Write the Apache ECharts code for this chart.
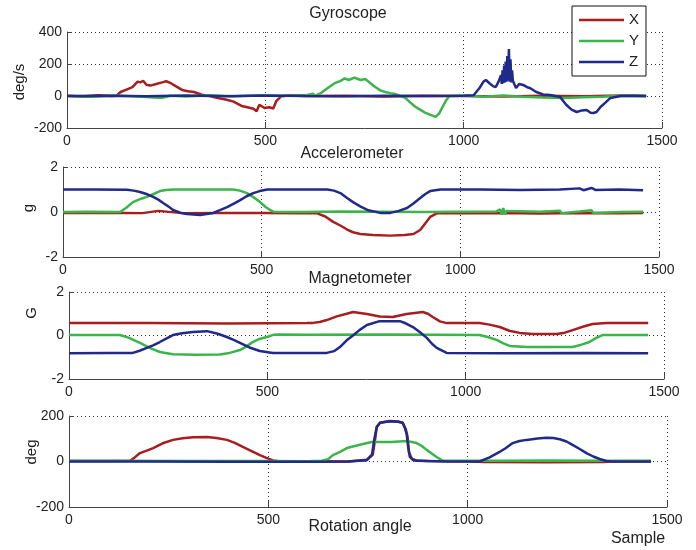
<!DOCTYPE html>
<html>
<head>
<meta charset="utf-8" />
<title>IMU sensors</title>
<style>
  body { margin: 0; background: #fff; }
  #main { width: 696px; height: 550px; }
</style>
</head>
<body>
<div id="main"></div>
<script src="https://cdn.jsdelivr.net/npm/echarts@6.0.0/dist/echarts.min.js"></script>
<script>
// [sample, value]
var gyroX = [[0,2],[40,-3],[80,4],[110,0],[125,2],[135,25],[150,40],[165,55],[178,90],[185,85],[192,95],[200,70],[210,65],[225,75],[240,85],[250,92],[262,80],[275,60],[290,38],[305,30],[320,25],[340,8],[360,0],[380,-12],[400,-22],[420,-35],[440,-62],[455,-70],[470,-80],[478,-95],[485,-55],[490,-45],[498,-75],[510,-70],[520,-78],[528,-30],[540,-2],[560,3],[600,0],[700,2],[800,-3],[900,2],[1000,0],[1100,-3],[1200,2],[1300,-2],[1400,3],[1460,0]];
var gyroY = [[0,0],[60,-5],[120,3],[180,-3],[220,-10],[240,-12],[260,2],[300,-3],[360,4],[420,-2],[480,3],[540,0],[600,4],[620,15],[625,0],[640,18],[660,55],[675,80],[690,95],[700,110],[710,100],[725,115],[740,100],[752,106],[765,80],[777,56],[790,35],[802,25],[815,18],[828,12],[840,0],[853,-12],[865,-40],[878,-67],[890,-85],[904,-106],[918,-120],[929,-131],[938,-110],[947,-67],[955,-30],[964,0],[1000,3],[1050,-5],[1100,3],[1150,-4],[1200,-10],[1250,-12],[1300,-8],[1350,-5],[1400,2],[1460,0]];
var gyroZ = [[0,0],[100,2],[200,-2],[300,3],[400,-2],[500,3],[600,0],[700,-2],[800,2],[900,0],[1000,2],[1025,5],[1040,50],[1050,90],[1056,100],[1065,80],[1075,60],[1081,56],[1088,90],[1090,100],[1092,80],[1094,130],[1096,75],[1098,160],[1100,80],[1102,190],[1104,85],[1106,215],[1108,90],[1110,250],[1112,95],[1114,293],[1116,90],[1118,230],[1120,85],[1122,160],[1124,95],[1132,50],[1140,75],[1150,69],[1160,55],[1167,50],[1183,25],[1200,10],[1218,6],[1243,-6],[1259,-56],[1272,-85],[1285,-100],[1298,-90],[1310,-87],[1320,-105],[1327,-106],[1335,-100],[1345,-69],[1358,-40],[1370,-12],[1396,0],[1430,2],[1460,0]];

var accX = [[0,-0.05],[100,-0.03],[200,-0.05],[240,0.05],[245,-0.03],[300,-0.05],[400,-0.04],[500,-0.04],[600,-0.06],[640,-0.06],[660,-0.2],[680,-0.44],[698,-0.6],[715,-0.78],[730,-0.9],[748,-0.98],[780,-1.02],[824,-1.05],[860,-1.02],[882,-0.98],[899,-0.8],[912,-0.5],[924,-0.22],[942,-0.05],[1000,-0.06],[1100,-0.05],[1200,-0.07],[1300,-0.04],[1400,-0.06],[1460,-0.05]];
var accY = [[0,0],[60,0.01],[144,0],[160,0.2],[176,0.44],[195,0.58],[211,0.67],[228,0.8],[244,0.93],[260,0.98],[277,1.0],[350,1.0],[428,1.0],[445,0.95],[463,0.84],[480,0.65],[496,0.44],[510,0.22],[521,0.09],[530,0.01],[600,0],[700,0.02],[800,0.01],[900,0],[1000,0.01],[1090,0.02],[1100,0.12],[1104,-0.12],[1108,0.18],[1112,-0.1],[1116,0.05],[1200,0.01],[1250,0.06],[1255,-0.05],[1300,0.02],[1330,0.08],[1334,-0.04],[1400,0],[1460,0.01]];
var accZ = [[0,1.0],[80,1.0],[161,0.99],[178,0.95],[194,0.89],[210,0.8],[227,0.67],[240,0.55],[252,0.4],[265,0.25],[277,0.09],[295,-0.03],[312,-0.09],[345,-0.13],[378,-0.04],[395,0.08],[413,0.22],[430,0.37],[446,0.53],[462,0.7],[479,0.84],[495,0.93],[514,1.0],[600,1.0],[665,1.0],[682,0.95],[698,0.84],[715,0.62],[730,0.44],[748,0.25],[766,0.09],[798,-0.04],[824,-0.04],[845,0.05],[866,0.18],[882,0.38],[899,0.62],[912,0.8],[924,0.93],[950,1.0],[1050,1.0],[1150,0.98],[1250,1.0],[1300,1.05],[1310,0.97],[1330,1.07],[1340,0.98],[1400,1.0],[1460,0.97]];

var magX = [[0,0.57],[200,0.57],[400,0.55],[600,0.57],[615,0.58],[632,0.62],[650,0.71],[675,0.88],[700,1.0],[716,1.08],[751,0.99],[783,0.87],[816,0.85],[851,0.99],[892,1.08],[905,1.0],[917,0.85],[935,0.65],[952,0.57],[1035,0.57],[1060,0.5],[1086,0.39],[1110,0.22],[1136,0.12],[1169,0.07],[1229,0.07],[1250,0.13],[1270,0.25],[1295,0.4],[1320,0.53],[1355,0.57],[1460,0.57]];
var magY = [[0,0.02],[128,0.02],[150,-0.1],[179,-0.34],[205,-0.58],[229,-0.76],[262,-0.86],[320,-0.88],[380,-0.87],[405,-0.8],[431,-0.67],[448,-0.5],[463,-0.3],[480,-0.16],[499,-0.07],[515,0.03],[531,0.05],[600,0.04],[800,0.05],[1035,0.02],[1055,-0.07],[1078,-0.2],[1095,-0.36],[1111,-0.48],[1154,-0.53],[1270,-0.53],[1290,-0.43],[1312,-0.3],[1328,-0.12],[1345,0.02],[1460,0.02]];
var magZ = [[0,-0.82],[100,-0.8],[161,-0.8],[178,-0.7],[196,-0.57],[212,-0.45],[229,-0.3],[245,-0.14],[262,0.02],[285,0.1],[312,0.16],[348,0.2],[375,0.08],[398,-0.07],[415,-0.2],[431,-0.34],[455,-0.55],[481,-0.71],[514,-0.8],[600,-0.8],[650,-0.8],[668,-0.72],[683,-0.53],[700,-0.22],[716,0.0],[733,0.26],[751,0.48],[783,0.66],[834,0.66],[850,0.55],[867,0.39],[885,0.15],[902,-0.11],[915,-0.38],[927,-0.57],[952,-0.8],[1100,-0.82],[1300,-0.8],[1460,-0.82]];

var angX = [[0,2],[100,2],[153,3],[165,18],[178,37],[195,48],[211,59],[235,80],[261,95],[285,102],[311,107],[346,108],[370,103],[396,95],[416,82],[436,64],[458,46],[479,28],[495,16],[512,5],[530,0],[600,1],[700,0],[747,8],[762,30],[768,100],[772,152],[780,170],[805,178],[825,176],[837,170],[845,140],[849,110],[853,40],[860,12],[872,4],[900,2],[1000,1],[1040,-2],[1200,-3],[1340,-2],[1360,0],[1460,0]];
var angY = [[0,3],[100,3],[300,2],[500,2],[600,1],[634,3],[650,10],[662,28],[680,42],[697,59],[722,70],[740,78],[759,86],[809,86],[847,90],[860,86],[872,81],[885,68],[897,51],[910,35],[922,20],[937,4],[1000,3],[1100,3],[1200,4],[1340,3],[1460,3]];
var angZ = [[0,0],[200,0],[400,-1],[500,-1],[600,-1],[700,0],[747,6],[760,30],[766,100],[772,152],[780,170],[805,177],[825,175],[837,170],[843,145],[847,120],[851,60],[855,20],[862,8],[872,3],[950,0],[1030,0],[1055,18],[1080,42],[1095,58],[1113,81],[1130,90],[1148,95],[1175,101],[1198,104],[1215,103],[1231,98],[1248,88],[1263,73],[1280,56],[1298,37],[1315,22],[1331,11],[1348,2],[1360,0],[1460,0]];

var names = ['X', 'Y', 'Z'];
var colors = ['#a81e1e', '#3bb54a', '#1f2a8a'];
var panels = [
    {data: [gyroX, gyroY, gyroZ], min: -200, max: 400, step: 200},
    {data: [accX, accY, accZ], min: -2, max: 2, step: 2},
    {data: [magX, magY, magZ], min: -2, max: 2, step: 2},
    {data: [angX, angY, angZ], min: -200, max: 200, step: 200}
];
var grids = [
    {left: 67, top: 32, width: 595, height: 96},
    {left: 63, top: 167, width: 596, height: 90},
    {left: 69, top: 292, width: 595, height: 87},
    {left: 69, top: 416, width: 598, height: 91}
];

var font = 'Liberation Sans, Arial, sans-serif';
var dotted = {show: true, lineStyle: {color: '#333', type: [1, 3], width: 1}};
var plain = function (v) { return String(v); };

var xAxes = [], yAxes = [], series = [];
panels.forEach(function (p, i) {
    xAxes.push({
        type: 'value', gridIndex: i, min: 0, max: 1500, interval: 500,
        axisLine: {onZero: false, lineStyle: {color: '#444'}},
        axisTick: {inside: true, length: 6, lineStyle: {color: '#444'}},
        axisLabel: {margin: 6, fontSize: 14, color: '#222', fontFamily: font, formatter: plain},
        splitLine: dotted
    });
    yAxes.push({
        type: 'value', gridIndex: i, min: p.min, max: p.max, interval: p.step,
        axisLine: {show: true, onZero: false, lineStyle: {color: '#444'}},
        axisTick: {show: true, inside: true, length: 5, lineStyle: {color: '#444'}},
        axisLabel: {margin: 5, fontSize: 14, color: '#222', fontFamily: font, formatter: plain},
        splitLine: dotted
    });
    p.data.forEach(function (d, k) {
        series.push({
            name: names[k], type: 'line', xAxisIndex: i, yAxisIndex: i,
            data: d, symbol: 'none', color: colors[k],
            lineStyle: {width: 2.5, color: colors[k]}
        });
    });
});

function label(text, x, y, size, rot) {
    return {
        type: 'text', x: x, y: y, rotation: rot ? Math.PI / 2 : 0, z: 10,
        style: {text: text, fill: '#222', font: size + 'px ' + font,
                textAlign: 'center', textVerticalAlign: 'middle'}
    };
}

var option = {
    animation: false,
    backgroundColor: '#fff',
    grid: grids,
    xAxis: xAxes,
    yAxis: yAxes,
    series: series,
    legend: {
        data: names, orient: 'vertical', left: 572, top: 6,
        icon: 'rect', itemWidth: 45, itemHeight: 2.5, itemGap: 5, itemTextGap: 6,
        padding: [6, 7, 6, 7],
        backgroundColor: '#fff', borderColor: '#111', borderWidth: 1,
        textStyle: {fontSize: 15, lineHeight: 16, color: '#222', fontFamily: font}
    },
    graphic: [
        label('Gyroscope', 348, 14, 16),
        label('Accelerometer', 352, 154, 16),
        label('Magnetometer', 360, 279, 16),
        label('Rotation angle', 360, 527, 16),
        label('Sample', 638, 539, 16),
        label('deg/s', 20, 82, 15, true),
        label('g', 29, 208, 15, true),
        label('G', 32, 313, 15, true),
        label('deg', 32, 452, 15, true)
    ]
};

var myChart = echarts.init(document.getElementById('main'));
myChart.setOption(option);
</script>
</body>
</html>
